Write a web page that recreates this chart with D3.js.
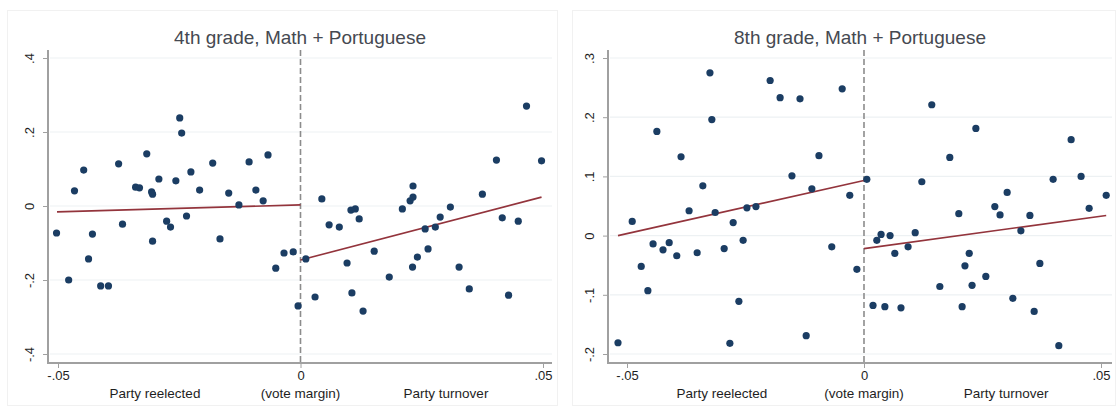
<!DOCTYPE html>
<html>
<head>
<meta charset="utf-8">
<script src="https://cdn.jsdelivr.net/npm/d3@7"></script>
<style>
  html, body { margin: 0; padding: 0; background: #fff; }
  svg { display: block; font-family: "Liberation Sans", Arial, sans-serif; }
</style>
</head>
<body>
<svg id="chart" width="1117" height="413"></svg>
<script>
// ---------- DATA ----------
const xTicks = [-0.05, 0, 0.05];
const xTickLabels = ["-.05", "0", ".05"];
const xSubPos = [-0.03, 0, 0.03];
const xSubLabels = ["Party reelected", "(vote margin)", "Party turnover"];

const g4Title = "4th grade, Math + Portuguese";
const g4YTicks = [-0.4, -0.2, 0, 0.2, 0.4];
const g4YTickLabels = ["-.4", "-.2", "0", ".2", ".4"];
const g4X = [-0.0503, -0.0478, -0.0466, -0.0447, -0.0437, -0.0429, -0.0412, -0.0396, -0.0375, -0.0367,
  -0.0340, -0.0332, -0.0317, -0.0307, -0.0305, -0.0305, -0.0292, -0.0276, -0.0268, -0.0257,
  -0.0249, -0.0245, -0.0235, -0.0226, -0.0208, -0.0181, -0.0166, -0.0148, -0.0127, -0.0106,
  -0.0092, -0.0077, -0.0067, -0.0051, -0.0034, -0.0015, -0.0005,
  0.0011, 0.0030, 0.0044, 0.0059, 0.0080, 0.0096, 0.0104, 0.0113, 0.0106, 0.0121,
  0.0129, 0.0152, 0.0183, 0.0210, 0.0226, 0.0232, 0.0232, 0.0231, 0.0241, 0.0257,
  0.0263, 0.0278, 0.0288, 0.0309, 0.0327, 0.0348, 0.0375, 0.0404, 0.0416, 0.0429,
  0.0449, 0.0466, 0.0497];
const g4Y = [-0.073, -0.200, 0.041, 0.097, -0.143, -0.076, -0.216, -0.216, 0.114, -0.049,
  0.051, 0.049, 0.141, 0.038, 0.032, -0.095, 0.073, -0.041, -0.057, 0.068,
  0.238, 0.197, -0.027, 0.092, 0.043, 0.116, -0.089, 0.035, 0.003, 0.119,
  0.043, 0.014, 0.138, -0.168, -0.127, -0.124, -0.270,
  -0.143, -0.246, 0.019, -0.051, -0.057, -0.154, -0.011, -0.008, -0.235, -0.035,
  -0.284, -0.122, -0.192, -0.008, 0.014, 0.024, 0.054, -0.165, -0.138, -0.062,
  -0.116, -0.057, -0.030, -0.003, -0.165, -0.224, 0.032, 0.124, -0.032, -0.241,
  -0.041, 0.270, 0.122];
const g4FitLeft = [[-0.0502, -0.016], [0, 0.003]];
const g4FitRight = [[0, -0.146], [0.0497, 0.024]];

const g8Title = "8th grade, Math + Portuguese";
const g8YTicks = [-0.2, -0.1, 0, 0.1, 0.2, 0.3];
const g8YTickLabels = ["-.2", "-.1", "0", ".1", ".2", ".3"];
const g8X = [-0.0519, -0.0489, -0.0470, -0.0456, -0.0445, -0.0437, -0.0424, -0.0411, -0.0395, -0.0386,
  -0.0369, -0.0352, -0.0340, -0.0325, -0.0321, -0.0314, -0.0295, -0.0283, -0.0276, -0.0264,
  -0.0255, -0.0247, -0.0228, -0.0198, -0.0177, -0.0152, -0.0135, -0.0122, -0.0110, -0.0095,
  -0.0068, -0.0046, -0.0030, -0.0015, 0.0006,
  0.0019, 0.0027, 0.0036, 0.0044, 0.0055, 0.0065, 0.0078, 0.0093, 0.0108, 0.0122,
  0.0143, 0.0160, 0.0181, 0.0200, 0.0207, 0.0213, 0.0222, 0.0228, 0.0236, 0.0257,
  0.0276, 0.0287, 0.0302, 0.0314, 0.0331, 0.0350, 0.0359, 0.0371, 0.0399, 0.0411,
  0.0437, 0.0458, 0.0475, 0.0511];
const g8Y = [-0.181, 0.024, -0.052, -0.093, -0.014, 0.176, -0.024, -0.012, -0.034, 0.133,
  0.042, -0.029, 0.084, 0.275, 0.196, 0.039, -0.022, -0.182, 0.022, -0.111,
  -0.008, 0.047, 0.049, 0.262, 0.233, 0.101, 0.231, -0.169, 0.079, 0.135,
  -0.019, 0.248, 0.068, -0.057, 0.095,
  -0.118, -0.008, 0.002, -0.120, 0.000, -0.030, -0.122, -0.019, 0.005, 0.091,
  0.221, -0.086, 0.132, 0.037, -0.120, -0.051, -0.030, -0.084, 0.181, -0.069,
  0.049, 0.035, 0.073, -0.106, 0.008, 0.034, -0.128, -0.047, 0.095, -0.186,
  0.162, 0.100, 0.046, 0.068];
const g8FitLeft = [[-0.0519, 0.0], [0, 0.093]];
const g8FitRight = [[0, -0.022], [0.0511, 0.034]];

// ---------- DRAW ----------
const svg = d3.select("#chart");
const C = { dot: "#1b3d63", fit: "#93343c", axis: "#a0a0a0", grid: "#edf1f3",
            text: "#1e1e1e", title: "#454951", dash: "#8c8c8c" };

function panel(opt) {
  const g = svg.append("g");
  // faint panel frame
  g.append("rect").attr("x", opt.frame[0]).attr("y", opt.frame[1])
    .attr("width", opt.frame[2]).attr("height", opt.frame[3])
    .attr("fill", "none").attr("stroke", "#f1f1f1").attr("stroke-width", 1);

  const x = d3.scaleLinear().domain([-0.05, 0.05]).range(opt.xr);
  const y = d3.scaleLinear().domain(opt.yd).range([354, 58]);

  // gridlines
  g.append("g").selectAll("line").data(opt.yTicks).join("line")
    .attr("x1", opt.axisX + 2).attr("x2", opt.axisXEnd)
    .attr("y1", d => y(d)).attr("y2", d => y(d))
    .attr("stroke", C.grid).attr("stroke-width", 1.2);

  // dashed cutoff
  g.append("line").attr("x1", x(0)).attr("x2", x(0)).attr("y1", 50).attr("y2", 362)
    .attr("stroke", C.dash).attr("stroke-width", 1.6).attr("stroke-dasharray", "6,3");

  // y axis
  const ya = g.append("g").attr("transform", `translate(${opt.axisX},0)`)
    .call(d3.axisLeft(y).tickValues(opt.yTicks)
      .tickFormat((d, i) => opt.yLabels[i]).tickSize(5).tickSizeOuter(0).tickPadding(8));
  ya.select(".domain").remove();
  ya.append("line").attr("x1", 0).attr("x2", 0).attr("y1", 50).attr("y2", 364)
    .attr("stroke", C.axis).attr("stroke-width", 2);
  ya.selectAll(".tick line").attr("stroke", C.axis).attr("stroke-width", 1);
  ya.selectAll(".tick text").attr("fill", C.text).attr("font-size", 13)
    .attr("text-anchor", "middle").attr("x", 0).attr("dy", 0)
    .attr("transform", "translate(-17,0) rotate(-90)")
    .attr("dominant-baseline", "middle");

  // x axis
  const xa = g.append("g").attr("transform", "translate(0,363)")
    .call(d3.axisBottom(x).tickValues(xTicks)
      .tickFormat((d, i) => xTickLabels[i]).tickSize(5).tickSizeOuter(0).tickPadding(3));
  xa.select(".domain").remove();
  xa.append("line").attr("x1", opt.axisX - 1).attr("x2", opt.axisXEnd)
    .attr("y1", 0).attr("y2", 0).attr("stroke", C.axis).attr("stroke-width", 2);
  xa.selectAll(".tick line").attr("stroke", C.axis).attr("stroke-width", 1);
  xa.selectAll(".tick text").attr("fill", C.text).attr("font-size", 13);

  // second-line labels
  g.append("g").selectAll("text").data(xSubLabels).join("text")
    .attr("x", (d, i) => x(xSubPos[i])).attr("y", 398)
    .attr("text-anchor", "middle").attr("font-size", 13.5).attr("fill", C.text)
    .text(d => d);

  // fit lines
  const line = d3.line().x(d => x(d[0])).y(d => y(d[1]));
  [opt.fitL, opt.fitR].forEach(f => {
    g.append("path").attr("d", line(f)).attr("fill", "none")
      .attr("stroke", C.fit).attr("stroke-width", 1.6);
  });

  // dots
  g.append("g").selectAll("circle").data(opt.xs.map((v, i) => [v, opt.ys[i]])).join("circle")
    .attr("cx", d => x(d[0])).attr("cy", d => y(d[1])).attr("r", 3.6)
    .attr("fill", C.dot);

  // title
  g.append("text").attr("x", (opt.axisX + opt.axisXEnd) / 2).attr("y", 44)
    .attr("text-anchor", "middle").attr("font-size", 19).attr("fill", C.title)
    .text(opt.title);
}

panel({ title: g4Title, xr: [58, 543], yd: [-0.4, 0.4], yTicks: g4YTicks, yLabels: g4YTickLabels,
  axisX: 48, axisXEnd: 552, frame: [7.5, 10.5, 550, 395],
  xs: g4X, ys: g4Y, fitL: g4FitLeft, fitR: g4FitRight });
panel({ title: g8Title, xr: [627, 1101], yd: [-0.2, 0.3], yTicks: g8YTicks, yLabels: g8YTickLabels,
  axisX: 608, axisXEnd: 1112, frame: [572.5, 10.5, 543, 395],
  xs: g8X, ys: g8Y, fitL: g8FitLeft, fitR: g8FitRight });
</script>
</body>
</html>
